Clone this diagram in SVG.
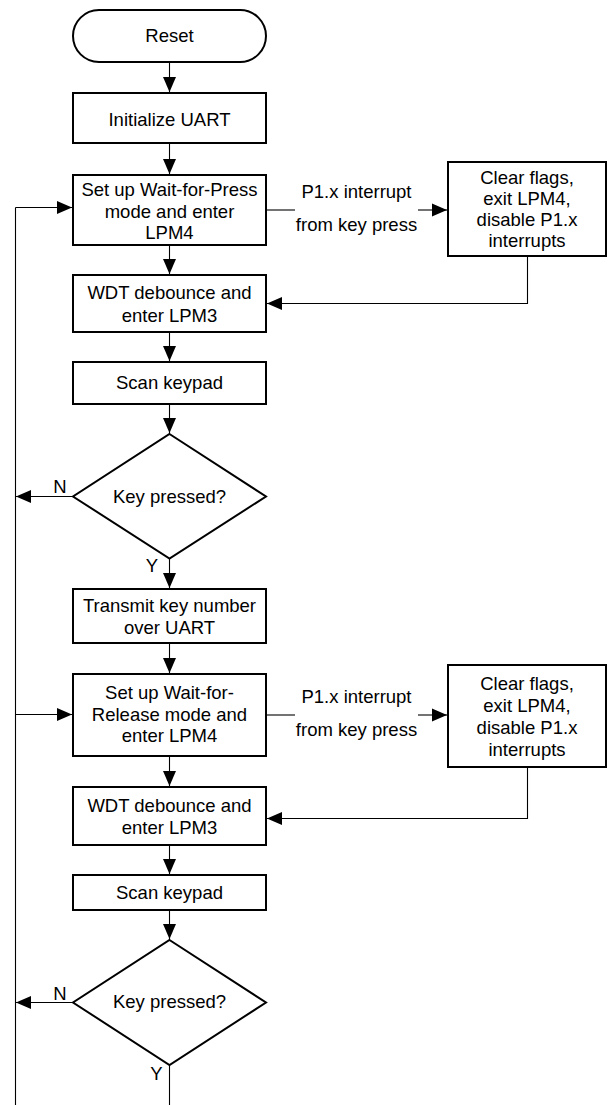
<svg xmlns="http://www.w3.org/2000/svg" width="608" height="1105" viewBox="0 0 608 1105">
<style>
.box{fill:#fff;stroke:#000;stroke-width:2}
.t{font-family:"Liberation Sans",Arial,sans-serif;font-size:18.5px;fill:#000;text-anchor:middle}
.c{fill:none;stroke:#000;stroke-width:1.1}
</style>
<defs>
<marker id="ah" markerUnits="userSpaceOnUse" markerWidth="15" markerHeight="14" refX="15" refY="7" orient="auto">
<path d="M0,0.5 L15,7 L0,13.5 Z" fill="#000"/>
</marker>
</defs>
<rect width="608" height="1105" fill="#fff"/>
<g id="connectors">
<line class="c" x1="169.5" y1="62" x2="169.5" y2="92" marker-end="url(#ah)"/>
<line class="c" x1="169.5" y1="143" x2="169.5" y2="174" marker-end="url(#ah)"/>
<line class="c" x1="169.5" y1="245" x2="169.5" y2="274" marker-end="url(#ah)"/>
<line class="c" x1="169.5" y1="332" x2="169.5" y2="361" marker-end="url(#ah)"/>
<line class="c" x1="169.5" y1="404" x2="169.5" y2="433" marker-end="url(#ah)"/>
<line class="c" x1="169.5" y1="558.5" x2="169.5" y2="588" marker-end="url(#ah)"/>
<line class="c" x1="169.5" y1="643" x2="169.5" y2="673" marker-end="url(#ah)"/>
<line class="c" x1="169.5" y1="756" x2="169.5" y2="786" marker-end="url(#ah)"/>
<line class="c" x1="169.5" y1="845" x2="169.5" y2="874" marker-end="url(#ah)"/>
<line class="c" x1="169.5" y1="910" x2="169.5" y2="939" marker-end="url(#ah)"/>
<line class="c" x1="169.5" y1="1065" x2="169.5" y2="1105"/>
<line class="c" x1="15.5" y1="1105" x2="15.5" y2="207.5"/>
<line class="c" x1="15.5" y1="207.5" x2="72" y2="207.5" marker-end="url(#ah)"/>
<line class="c" x1="15.5" y1="714.5" x2="72" y2="714.5" marker-end="url(#ah)"/>
<line class="c" x1="73" y1="496.5" x2="16" y2="496.5" marker-end="url(#ah)"/>
<line class="c" x1="73" y1="1002.5" x2="16" y2="1002.5" marker-end="url(#ah)"/>
<line class="c" x1="266" y1="210" x2="295" y2="210"/>
<line class="c" x1="418" y1="210" x2="447" y2="210" marker-end="url(#ah)"/>
<polyline class="c" points="527.5,256 527.5,303.5 267,303.5" marker-end="url(#ah)"/>
<line class="c" x1="266" y1="715" x2="295" y2="715"/>
<line class="c" x1="418" y1="715" x2="447" y2="715" marker-end="url(#ah)"/>
<polyline class="c" points="527.5,767 527.5,818.5 267,818.5" marker-end="url(#ah)"/>
<text class="t" x="356.5" y="198">P1.x interrupt</text>
<text class="t" x="356.5" y="231">from key press</text>
<text class="t" x="356.5" y="703">P1.x interrupt</text>
<text class="t" x="356.5" y="735.5">from key press</text>
<text class="t" x="60" y="493">N</text>
<text class="t" x="152" y="572">Y</text>
<text class="t" x="60" y="999.5">N</text>
<text class="t" x="156.5" y="1080">Y</text>
</g>
<g id="reset">
<rect class="box" x="73" y="10" width="193" height="52" rx="26"/>
<text class="t" x="169.5" y="42">Reset</text>
</g>
<g id="init-uart">
<rect class="box" x="73" y="93" width="193" height="50"/>
<text class="t" x="169.5" y="125.5">Initialize UART</text>
</g>
<g id="setup-press">
<rect class="box" x="73" y="175" width="193" height="70"/>
<text class="t" x="169.5" y="195.5">Set up Wait-for-Press</text>
<text class="t" x="169.5" y="217.5">mode and enter</text>
<text class="t" x="169.5" y="239">LPM4</text>
</g>
<g id="clear-flags-1">
<rect class="box" x="448" y="162" width="158" height="94"/>
<text class="t" x="527" y="184">Clear flags,</text>
<text class="t" x="527" y="205">exit LPM4,</text>
<text class="t" x="527" y="226">disable P1.x</text>
<text class="t" x="527" y="247">interrupts</text>
</g>
<g id="wdt-1">
<rect class="box" x="73" y="275" width="193" height="57"/>
<text class="t" x="169.5" y="299">WDT debounce and</text>
<text class="t" x="169.5" y="321.5">enter LPM3</text>
</g>
<g id="scan-1">
<rect class="box" x="73" y="362" width="193" height="42"/>
<text class="t" x="169.5" y="389">Scan keypad</text>
</g>
<g id="decision-1">
<polygon class="box" points="169.5,434 266,496.5 169.5,558.5 73,496.5"/>
<text class="t" x="169.5" y="503">Key pressed?</text>
</g>
<g id="transmit">
<rect class="box" x="73" y="589" width="193" height="54"/>
<text class="t" x="169.5" y="611.5">Transmit key number</text>
<text class="t" x="169.5" y="633.5">over UART</text>
</g>
<g id="setup-release">
<rect class="box" x="73" y="674" width="193" height="82"/>
<text class="t" x="169.5" y="699">Set up Wait-for-</text>
<text class="t" x="169.5" y="721">Release mode and</text>
<text class="t" x="169.5" y="742">enter LPM4</text>
</g>
<g id="clear-flags-2">
<rect class="box" x="448" y="665" width="158" height="102"/>
<text class="t" x="527" y="690">Clear flags,</text>
<text class="t" x="527" y="712">exit LPM4,</text>
<text class="t" x="527" y="734">disable P1.x</text>
<text class="t" x="527" y="756">interrupts</text>
</g>
<g id="wdt-2">
<rect class="box" x="73" y="787" width="193" height="58"/>
<text class="t" x="169.5" y="811.5">WDT debounce and</text>
<text class="t" x="169.5" y="833.5">enter LPM3</text>
</g>
<g id="scan-2">
<rect class="box" x="73" y="875" width="193" height="35"/>
<text class="t" x="169.5" y="899">Scan keypad</text>
</g>
<g id="decision-2">
<polygon class="box" points="169.5,940 266,1002.5 169.5,1065 73,1002.5"/>
<text class="t" x="169.5" y="1008">Key pressed?</text>
</g>
</svg>
